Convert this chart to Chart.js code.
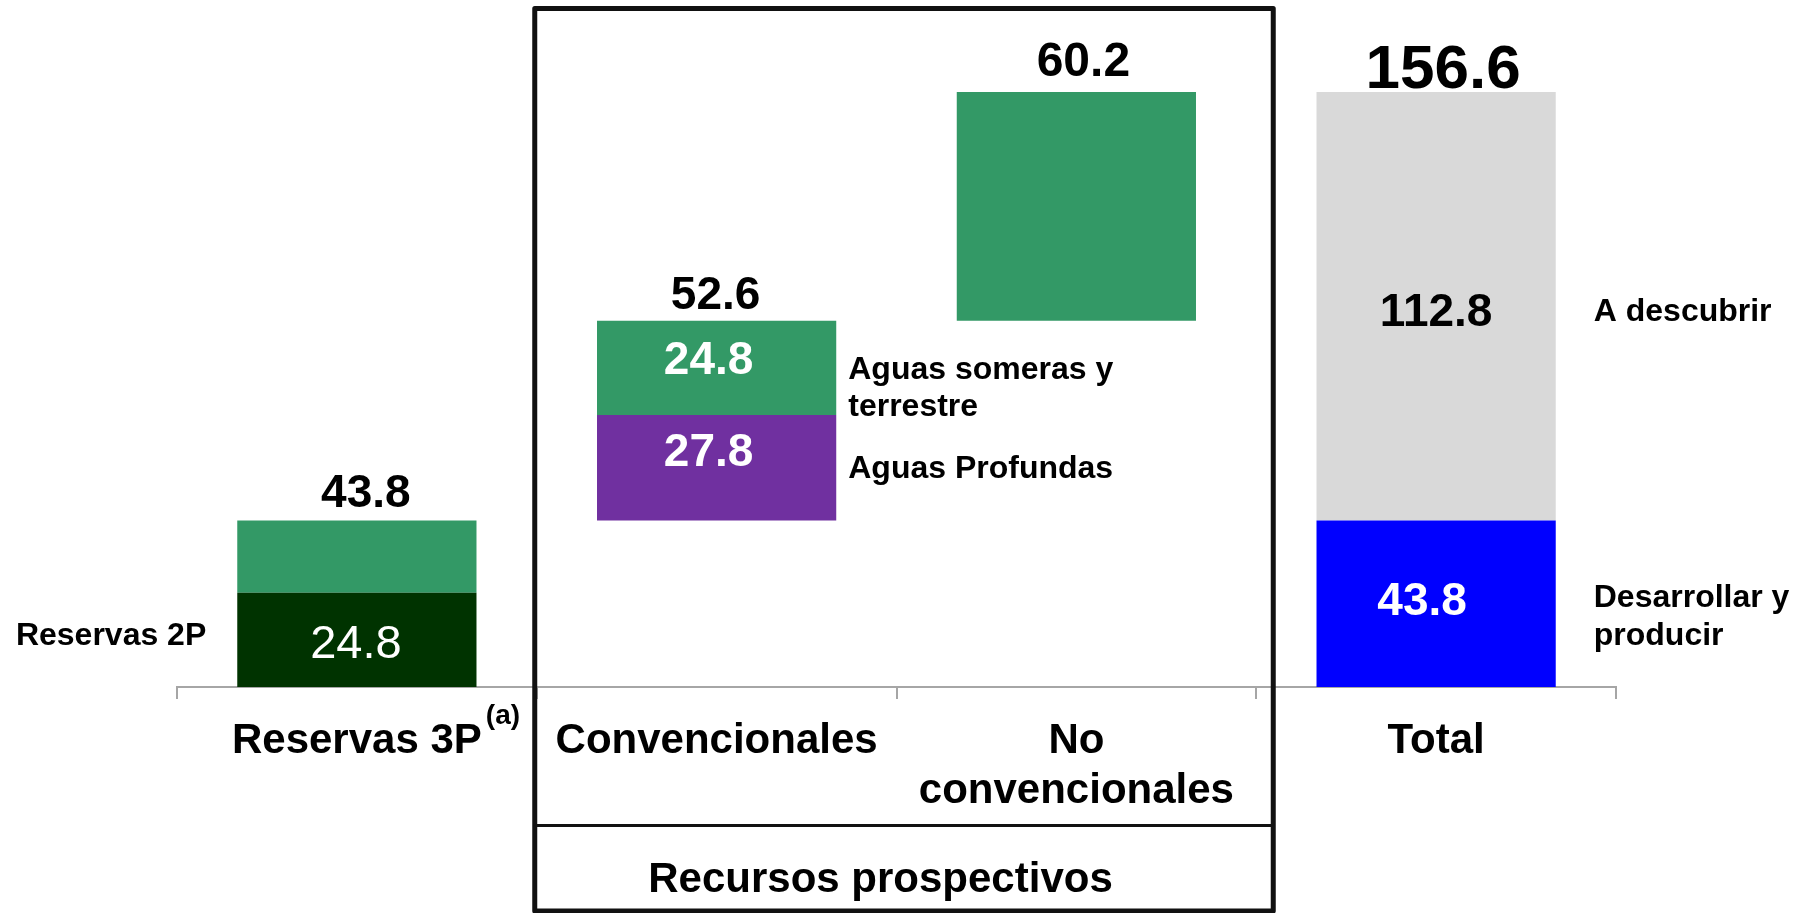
<!DOCTYPE html>
<html>
<head>
<meta charset="utf-8">
<script src="https://cdn.jsdelivr.net/npm/chart.js@4.4.1/dist/chart.umd.min.js"></script>
<style>
html,body{margin:0;padding:0;background:#ffffff;overflow:hidden}
#wrap{width:1805px;height:913px;position:relative}
</style>
</head>
<body>
<div id="wrap"><canvas id="c" width="1805" height="913"></canvas></div>
<script>
// ---- Data ----
const categories = [['Reservas 3P'], ['Convencionales'], ['No', 'convencionales'], ['Total']];
const categoryTotals = [43.8, 52.6, 60.2, 156.6];
const reservas2P = [24.8, null, null, null];
const reservas3PResto = [19.0, null, null, null];
const aguasProfundas = [null, 27.8, null, null];
const aguasSomeras = [null, 24.8, null, null];
const noConvencionales = [null, null, 60.2, null];
const desarrollarProducir = [null, null, null, 43.8];
const aDescubrir = [null, null, null, 112.8];
const waterfallFloats = [true, true, true, false]; // total bar starts at zero

// ---- Styles ----
const FONT = "'Liberation Sans', Arial, Helvetica, sans-serif";
const GREEN = '#339966', DARK = '#003300', PURPLE = '#7030A0', GREY = '#D9D9D9', BLUE = '#0000FF';

const layers = [
  { name: 'Reservas 2P', values: reservas2P, color: DARK },
  { name: 'Reservas 3P', values: reservas3PResto, color: GREEN },
  { name: 'Aguas Profundas', values: aguasProfundas, color: PURPLE },
  { name: 'Aguas someras y terrestre', values: aguasSomeras, color: GREEN },
  { name: 'No convencionales', values: noConvencionales, color: GREEN },
  { name: 'Desarrollar y producir', values: desarrollarProducir, color: BLUE },
  { name: 'A descubrir', values: aDescubrir, color: GREY }
];

// waterfall bases
const bases = [];
let run = 0;
categoryTotals.forEach((t, i) => { bases.push(waterfallFloats[i] ? run : 0); if (waterfallFloats[i]) run += t; });

const running = bases.slice();
const datasets = layers.map(l => {
  const data = l.values.map((v, i) => {
    if (v === null) return null;
    const r = [running[i], running[i] + v];
    running[i] += v;
    return r;
  });
  return {
    label: l.name, data, backgroundColor: l.color, borderWidth: 0,
    grouped: false, categoryPercentage: 1, barPercentage: 0.665
  };
});

// label styles
const totalStyle = [
  { size: 46, gap: 14, dx: 9 }, { size: 46, gap: 12, dx: -1 }, { size: 48, gap: 16, dx: 7 }, { size: 62, gap: 4, dx: 7 }
];
const innerLabels = [
  { ds: 0, cat: 0, color: '#ffffff', weight: 'normal', size: 47, dx: -1, dy: 1 },
  { ds: 3, cat: 1, color: '#ffffff', weight: 'bold', size: 46, dx: -8, dy: -10 },
  { ds: 2, cat: 1, color: '#ffffff', weight: 'bold', size: 46, dx: -8, dy: -18 },
  { ds: 6, cat: 3, color: '#000000', weight: 'bold', size: 46, dx: 0, dy: 3 },
  { ds: 5, cat: 3, color: '#ffffff', weight: 'bold', size: 46, dx: -14, dy: -5 }
];
const sideLabels = [
  { ds: 0, cat: 0, lines: ['Reservas 2P'], side: 'left', dx: 31, dy: -6, lh: 37 },
  { ds: 3, cat: 1, lines: ['Aguas someras y', 'terrestre'], side: 'right', dx: 12, dy: 0, lh: 37 },
  { ds: 2, cat: 1, lines: ['Aguas Profundas'], side: 'right', dx: 12, dy: -1, lh: 37 },
  { ds: 6, cat: 3, lines: ['A descubrir'], side: 'right', dx: 38, dy: 3, lh: 38 },
  { ds: 5, cat: 3, lines: ['Desarrollar y', 'producir'], side: 'right', dx: 38, dy: -8, lh: 38 }
];

function capBase(centerY, size) { return centerY + 0.358 * size; }

const annot = {
  id: 'annot',
  afterDatasetsDraw(chart) {
    const ctx = chart.ctx;
    const xs = chart.scales.x, ys = chart.scales.y;
    ctx.save();
    // totals above bars
    ctx.textAlign = 'center';
    ctx.textBaseline = 'alphabetic';
    ctx.fillStyle = '#000';
    categoryTotals.forEach((t, i) => {
      const st = totalStyle[i];
      const top = ys.getPixelForValue(bases[i] + t);
      ctx.font = 'bold ' + st.size + 'px ' + FONT;
      ctx.fillText(t.toFixed(1), xs.getPixelForValue(i) + st.dx, top - st.gap);
    });
    // inner labels
    innerLabels.forEach(l => {
      const el = chart.getDatasetMeta(l.ds).data[l.cat];
      const v = layers[l.ds].values[l.cat];
      const cy = (el.y + el.base) / 2 + l.dy;
      ctx.font = l.weight + ' ' + l.size + 'px ' + FONT;
      ctx.fillStyle = l.color;
      ctx.textAlign = 'center';
      ctx.fillText(v.toFixed(1), el.x + l.dx, capBase(cy, l.size));
    });
    // side labels
    ctx.fillStyle = '#000';
    ctx.font = 'bold 32px ' + FONT;
    sideLabels.forEach(l => {
      const el = chart.getDatasetMeta(l.ds).data[l.cat];
      const cy = (el.y + el.base) / 2 + l.dy;
      let x;
      if (l.side === 'left') { x = el.x - el.width / 2 - l.dx; ctx.textAlign = 'right'; }
      else { x = el.x + el.width / 2 + l.dx; ctx.textAlign = 'left'; }
      l.lines.forEach((ln, k) => ctx.fillText(ln, x, capBase(cy + k * l.lh, 32)));
    });
    ctx.restore();
  },
  afterDraw(chart) {
    const ctx = chart.ctx;
    const xs = chart.scales.x;
    const b01 = (xs.getPixelForValue(0) + xs.getPixelForValue(1)) / 2;
    const b12 = (xs.getPixelForValue(1) + xs.getPixelForValue(2)) / 2;
    const b23 = (xs.getPixelForValue(2) + xs.getPixelForValue(3)) / 2;
    ctx.save();
    // superscript (a)
    ctx.font = 'bold 42px ' + FONT;
    const w = ctx.measureText('Reservas 3P').width;
    const x0 = xs.getPixelForValue(0) + w / 2 + 4;
    ctx.font = 'bold 28px ' + FONT;
    ctx.fillStyle = '#000';
    ctx.textAlign = 'left';
    ctx.textBaseline = 'alphabetic';
    ctx.fillText('(a)', x0, 724);
    // box for prospective resources
    const L = b01 - 2, R = b23 + 17, T = 8.5, B = 911;
    ctx.strokeStyle = '#111111';
    ctx.lineWidth = 5;
    ctx.lineJoin = 'round';
    ctx.strokeRect(L, T, R - L, B - T);
    ctx.lineWidth = 3;
    ctx.beginPath();
    ctx.moveTo(L, 825.5);
    ctx.lineTo(R, 825.5);
    ctx.stroke();
    ctx.font = 'bold 42px ' + FONT;
    ctx.textAlign = 'center';
    ctx.fillText('Recursos prospectivos', b12 - 16, capBase(877, 42));
    ctx.restore();
  }
};

new Chart(document.getElementById('c'), {
  type: 'bar',
  data: { labels: categories, datasets },
  options: {
    responsive: false,
    animation: false,
    events: [],
    layout: { padding: { left: 177, right: 189, top: 3, bottom: 0 } },
    plugins: { legend: { display: false }, tooltip: { enabled: false }, title: { display: false } },
    scales: {
      x: {
        offset: true,
        grid: { offset: true, drawOnChartArea: false, drawTicks: true, tickLength: 12, color: '#a6a6a6', lineWidth: 2 },
        border: { display: true, color: '#a6a6a6', width: 2 },
        ticks: {
          color: '#000000', autoSkip: false, maxRotation: 0, minRotation: 0, padding: 17,
          font: { family: FONT, size: 42, weight: 'bold', lineHeight: 1.2 }
        },
        afterFit(s) { s.height = 226; }
      },
      y: { display: false, min: 0, max: 180 }
    }
  },
  plugins: [annot]
});
</script>
</body>
</html>
